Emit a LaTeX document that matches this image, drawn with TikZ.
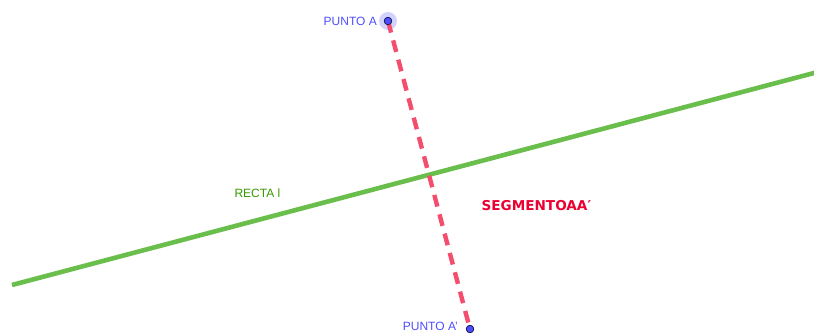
\documentclass[tikz,border=0pt]{standalone}
\usepackage{fontspec}
\setmainfont{Liberation Sans}
\newfontfamily\segfont{DejaVu Sans}
\usepackage{xcolor}
\usetikzlibrary{positioning, calc}

\definecolor{ptblue}{RGB}{77,77,255}
\definecolor{linegreen}{RGB}{106,190,76}
\definecolor{labgreen}{RGB}{51,153,0}
\definecolor{segred}{RGB}{244,78,110}
\definecolor{labred}{RGB}{235,0,50}

\begin{document}
\begin{tikzpicture}[
    x=1pt, y=-1pt,
    pt/.style={circle, draw=black!70!ptblue, fill=ptblue, inner sep=0pt, minimum size=7.5pt, line width=0.6pt},
    halo/.style={circle, fill=ptblue!25, inner sep=0pt, minimum size=18pt},
    ptlabel/.style={font=\fontsize{12}{14}\selectfont, text=ptblue, inner sep=1pt},
    recta/.style={line width=4.6pt, color=linegreen},
    segment/.style={line width=4.4pt, color=segred, dash pattern=on 12pt off 8pt},
]
\useasboundingbox (0,0) rectangle (814,333);

% recta l
\coordinate (l1) at (12,285);
\coordinate (l2) at (820,71.4);
\draw[recta] (l1) -- (l2);

% puntos
\node[halo] (Ahalo) at (388,21) {};
\node[pt] (A) at (388,21) {};
\node[pt] (Ap) at (470,329) {};

% segmento AA'
\draw[segment] (A.center) -- (Ap.center);
\node[pt] at (A) {};
\node[pt] at (Ap) {};

% etiquetas
\node[ptlabel, anchor=east] (labA) at (378,21) {PUNTO A};
\node[ptlabel, anchor=east] (labAp) at (459,326) {PUNTO A'};
\node[font=\fontsize{12}{14}\selectfont, text=labgreen, anchor=west] (labl) at (231,193) {RECTA l};
\node[font=\segfont\bfseries\fontsize{13.6}{15}\selectfont, text=labred, anchor=west] (labseg) at (478,206) {SEGMENTOAA′};

\end{tikzpicture}
\end{document}
